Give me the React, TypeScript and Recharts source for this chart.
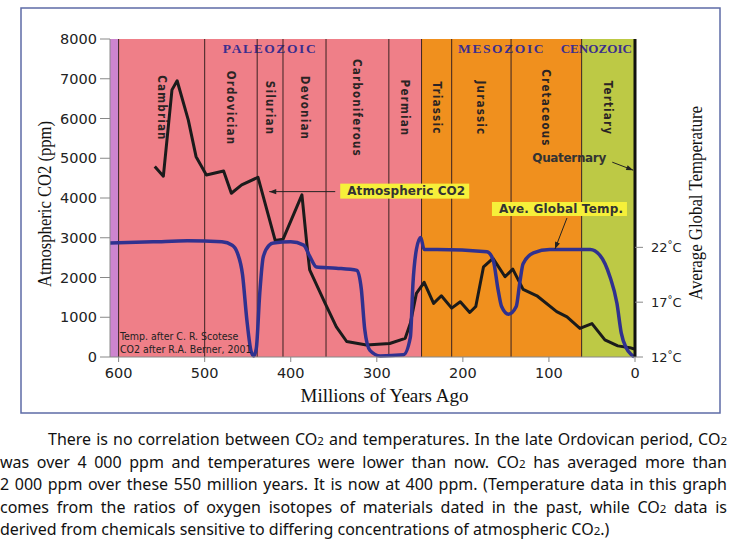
import React from 'react';
import {
  ComposedChart,
  Line,
  XAxis,
  YAxis,
  ReferenceArea,
  ReferenceLine,
  ReferenceDot,
  Label,
} from 'recharts';

// ---- Geologic time scale (millions of years ago) ----
const periodNames = ['Cambrian', 'Ordovician', 'Silurian', 'Devonian', 'Carboniferous', 'Permian', 'Triassic', 'Jurassic', 'Cretaceous', 'Tertiary'];
const periodStarts = [600, 500, 439, 409, 359, 286, 248, 213, 144, 62];
const periodEnds = [500, 439, 409, 359, 286, 248, 213, 144, 62, 0];

const boundaryAges = [600, 500, 439, 409, 359, 286, 248, 213, 144, 62, 0];
const boundaryLabels = ['590', '505', '438', '408', '360', '286', '248', '213', '144', '65', '2'];

const eraNames = ['PALEOZOIC', 'MESOZOIC', 'CENOZOIC'];
const eraStarts = [600, 248, 62];
const eraEnds = [248, 62, 0];
const precambrianSpan = [610, 600];

// ---- Atmospheric CO2 (ppm), after R.A. Berner 2001 ----
const co2Ages = [558, 548, 538, 532, 519, 510, 498, 478, 469, 457, 438, 418, 409, 387, 381, 378, 360, 347, 335, 312, 285, 267, 261, 254, 245, 234, 225, 213, 203, 192, 185, 176, 165, 151, 142, 130, 114, 91, 79, 64, 50, 35, 20, 6, 1];
const co2Values = [4790, 4550, 6720, 6950, 5960, 5040, 4580, 4680, 4120, 4330, 4520, 2930, 2960, 4080, 2780, 2190, 1350, 760, 390, 300, 340, 470, 850, 1600, 1880, 1350, 1540, 1230, 1390, 1120, 1270, 2270, 2480, 2020, 2210, 1700, 1540, 1140, 1010, 720, 840, 430, 280, 235, 200];

// ---- Average global temperature (°C), after C.R. Scotese ----
const tempAges = [610, 560, 520, 480, 468, 462, 456, 451, 446, 443, 440, 436, 432, 425, 420, 400, 385, 378, 370, 347, 323, 318, 314, 308, 296, 269, 261, 258, 254, 249, 245, 230, 172, 165, 159, 155, 147, 138, 134, 130, 118, 99, 52, 41, 29, 21, 16, 10, 4, 1];
const tempValues = [22.4, 22.5, 22.6, 22.5, 22.2, 21.5, 19.5, 15.4, 12.5, 12.1, 12.8, 17.8, 21.1, 22.2, 22.4, 22.5, 22.2, 21.2, 20.2, 20.1, 19.9, 18.2, 14.5, 12.6, 12.1, 12.2, 13.8, 18.7, 21.8, 22.9, 21.8, 21.8, 21.6, 20.9, 18.1, 16.6, 15.9, 16.6, 18.7, 20.5, 21.5, 21.8, 21.8, 21.3, 19.3, 16.9, 14.2, 12.8, 12.2, 12.0];

// ---- Axis ticks ----
const ageTicks = [600, 500, 400, 300, 200, 100, 0];
const co2Ticks = [0, 1000, 2000, 3000, 4000, 5000, 6000, 7000, 8000];
const tempTicks = [12, 17, 22];

const co2Data = co2Ages.map((age, i) => ({ age, co2: co2Values[i] }));
const tempData = tempAges.map((age, i) => ({ age, temp: tempValues[i] }));

// ---- Styling ----
const PAPER = '#ffffff';
const ERA_FILLS = ['#ef7f88', '#f0901e', '#bdc945'];
const PRECAMBRIAN_FILL = '#cd85cf';
const CO2_COLOR = '#1b1b1b';
const TEMP_COLOR = '#30318f';
const ERA_TEXT = '#3b2e8e';
const NOTE_YELLOW = '#f6f03a';
const SANS = '"DejaVu Sans", Verdana, sans-serif';
const SANS_COND = '"DejaVu Sans Condensed", "DejaVu Sans", sans-serif';
const SERIF = '"Liberation Serif", "Times New Roman", serif';

// small horizontal nudges so the crowded boundary labels do not collide
const topLabelNudge = [5, -4, -2, -2, 3, -2, -8, -12, 4, 8, -5];

const TopTick = (props: any) => {
  const { x, payload } = props;
  const i = boundaryAges.indexOf(payload.value);
  return (
    <text
      x={x + (topLabelNudge[i] || 0)}
      y={34}
      textAnchor="middle"
      fontFamily={SANS}
      fontSize={13}
      fill="#222"
    >
      {boundaryLabels[i]}
    </text>
  );
};

const TempTick = (props: any) => {
  const { x, y, payload } = props;
  return (
    <text x={x} y={y} dy="0.36em" textAnchor="start" fontFamily={SANS} fontSize={13} fill="#222">
      {payload.value}
      <tspan fontSize={10} dy={-4}>°</tspan>
      <tspan dy={4}>C</tspan>
    </text>
  );
};

const PeriodLabel = (props: any) => {
  const { viewBox, value } = props;
  const cx = viewBox.x + viewBox.width / 2;
  const cy = 108;
  return (
    <text
      transform={`translate(${cx},${cy}) rotate(90)`}
      textAnchor="middle"
      dominantBaseline="central"
      fontFamily={SANS_COND}
      fontWeight="bold"
      fontSize={11.5}
      letterSpacing={1.2}
      fill="#2b2424"
    >
      {value}
    </text>
  );
};

const EraLabel = (props: any) => {
  const { viewBox, value } = props;
  const natural = value.length * 10.5;
  const fits = natural <= viewBox.width;
  const baseline = viewBox.y + 14;
  if (fits) {
    return (
      <text
        x={viewBox.x + viewBox.width / 2}
        y={baseline}
        textAnchor="middle"
        fontFamily={SERIF}
        fontWeight="bold"
        fontSize={13.5}
        letterSpacing={1.6}
        fill={ERA_TEXT}
      >
        {value}
      </text>
    );
  }
  return (
    <text
      x={viewBox.x + viewBox.width - 3}
      y={baseline}
      textAnchor="end"
      fontFamily={SERIF}
      fontWeight="bold"
      fontSize={13.5}
      textLength={viewBox.width + 18}
      lengthAdjust="spacingAndGlyphs"
      fill={ERA_TEXT}
    >
      {value}
    </text>
  );
};

const arrowHead = (x1: number, y1: number, x2: number, y2: number) => {
  const a = Math.atan2(y2 - y1, x2 - x1);
  const L = 7;
  const w = 2.6;
  const bx = x2 - L * Math.cos(a);
  const by = y2 - L * Math.sin(a);
  return `${x2},${y2} ${bx + w * Math.sin(a)},${by - w * Math.cos(a)} ${bx - w * Math.sin(a)},${by + w * Math.cos(a)}`;
};

const Pointer = ({ x1, y1, x2, y2 }: { x1: number; y1: number; x2: number; y2: number }) => (
  <g>
    <line x1={x1} y1={y1} x2={x2} y2={y2} stroke="#222" strokeWidth={1} />
    <polygon points={arrowHead(x1, y1, x2, y2)} fill="#222" />
  </g>
);

const Callout = ({ text, bx, by, bw, bh, tx, tw }: any) => (
  <g>
    <rect x={bx} y={by} width={bw} height={bh} fill={NOTE_YELLOW} />
    <text
      x={tx}
      y={by + bh / 2}
      dominantBaseline="central"
      fontFamily={SANS}
      fontWeight="bold"
      fontSize={12}
      textLength={tw}
      lengthAdjust="spacing"
      fill="#333"
    >
      {text}
    </text>
  </g>
);

const co2Callout = (p: any) => {
  const { cx, cy } = p;
  return (
    <g>
      <Pointer x1={cx + 66} y1={cy} x2={cx} y2={cy} />
      <Callout text="Atmospheric CO2" bx={cx + 71} by={cy - 8} bw={129} bh={15} tx={cx + 78} tw={118} />
    </g>
  );
};

const tempCallout = (p: any) => {
  const { cx, cy } = p;
  return (
    <g>
      <Pointer x1={cx + 12} y1={cy - 31} x2={cx} y2={cy} />
      <Callout text="Ave. Global Temp." bx={cx - 63} by={cy - 47} bw={135} bh={14} tx={cx - 56} tw={124} />
    </g>
  );
};

const quaternaryCallout = (p: any) => {
  const { cx, cy } = p;
  return (
    <g>
      <Pointer x1={cx - 21} y1={cy - 8} x2={cx} y2={cy} />
      <text
        x={cx - 101}
        y={cy - 12}
        dominantBaseline="central"
        fontFamily={SANS}
        fontWeight="bold"
        fontSize={12}
        textLength={74}
        lengthAdjust="spacing"
        fill="#333"
      >
        Quaternary
      </text>
    </g>
  );
};

const LeftTitle = (props: any) => {
  const { viewBox } = props;
  const x = viewBox.x + 14;
  const y = viewBox.y + viewBox.height / 2 + 6;
  return (
    <text
      transform={`translate(${x},${y}) rotate(-90)`}
      textAnchor="middle"
      dominantBaseline="central"
      fontFamily={SERIF}
      fontSize={19}
      textLength={166}
      lengthAdjust="spacingAndGlyphs"
      fill="#111"
    >
      Atmospheric CO2 (ppm)
    </text>
  );
};

const RightTitle = (props: any) => {
  const { viewBox } = props;
  const x = viewBox.x + 60;
  const y = viewBox.y + viewBox.height / 2 + 5;
  return (
    <text
      transform={`translate(${x},${y}) rotate(-90)`}
      textAnchor="middle"
      dominantBaseline="central"
      fontFamily={SERIF}
      fontSize={19}
      textLength={194}
      lengthAdjust="spacingAndGlyphs"
      fill="#111"
    >
      Average Global Temperature
    </text>
  );
};

const BottomTitle = (props: any) => {
  const { viewBox } = props;
  return (
    <text
      x={viewBox.x + viewBox.width / 2 + 12}
      y={viewBox.y + 38}
      textAnchor="middle"
      dominantBaseline="central"
      fontFamily={SERIF}
      fontSize={19}
      fill="#111"
    >
      Millions of Years Ago
    </text>
  );
};

const Sub2 = () => <span style={{ fontSize: '0.72em' }}>2</span>;

const lineStyle: React.CSSProperties = {
  textAlign: 'justify',
  textAlignLast: 'justify',
  height: 22.5,
  overflow: 'visible',
};

export default function App() {
  return (
    <div style={{ position: 'absolute', left: 0, top: 0, width: 730, height: 544, background: PAPER, overflow: 'hidden' }}>
      <ComposedChart
        width={730}
        height={420}
        margin={{ top: 14, right: 15, bottom: 33, left: 30 }}
      >
        <XAxis
          xAxisId="bottom"
          type="number"
          dataKey="age"
          domain={[0, 610]}
          reversed
          ticks={ageTicks}
          height={30}
          tickSize={5}
          tickMargin={6}
          stroke="#888"
          tick={{ fill: '#222', fontSize: 14.5, fontFamily: SANS }}
        >
          <Label content={BottomTitle} />
        </XAxis>
        <XAxis
          xAxisId="top"
          orientation="top"
          type="number"
          domain={[0, 610]}
          reversed
          ticks={boundaryAges}
          height={25}
          axisLine={false}
          tickLine={false}
          tick={TopTick}
        />
        <YAxis
          yAxisId="co2"
          domain={[0, 8000]}
          ticks={co2Ticks}
          width={80}
          tickSize={10}
          tickMargin={3}
          stroke="#888"
          tick={{ fill: '#222', fontSize: 14.5, fontFamily: SANS }}
        >
          <Label content={LeftTitle} />
        </YAxis>
        <YAxis
          yAxisId="temp"
          orientation="right"
          domain={[12, 41]}
          ticks={tempTicks}
          width={80}
          tickSize={8}
          tickMargin={8}
          axisLine={false}
          stroke="#888"
          tick={TempTick}
        >
          <Label content={RightTitle} />
        </YAxis>

        {eraNames.map((name, i) => (
          <ReferenceArea
            key={name}
            xAxisId="bottom"
            yAxisId="co2"
            x1={eraStarts[i]}
            x2={eraEnds[i]}
            fill={ERA_FILLS[i]}
            fillOpacity={1}
            stroke="none"
            label={{ value: name, content: EraLabel }}
          />
        ))}
        <ReferenceArea
          xAxisId="bottom"
          yAxisId="co2"
          x1={precambrianSpan[0]}
          x2={precambrianSpan[1]}
          fill={PRECAMBRIAN_FILL}
          fillOpacity={1}
          stroke="none"
        />
        {periodNames.map((name, i) => (
          <ReferenceArea
            key={name}
            xAxisId="bottom"
            yAxisId="co2"
            x1={periodStarts[i]}
            x2={periodEnds[i]}
            fill="none"
            fillOpacity={0}
            stroke="none"
            label={{ value: name, content: PeriodLabel }}
          />
        ))}
        {boundaryAges.slice(0, -1).map((age) => (
          <ReferenceLine key={age} xAxisId="bottom" yAxisId="co2" x={age} stroke="#3a2222" strokeWidth={1} />
        ))}

        <Line
          data={co2Data}
          xAxisId="bottom"
          yAxisId="co2"
          dataKey="co2"
          type="linear"
          stroke={CO2_COLOR}
          strokeWidth={3}
          strokeLinejoin="round"
          dot={false}
          isAnimationActive={false}
        />
        <Line
          data={tempData}
          xAxisId="bottom"
          yAxisId="temp"
          dataKey="temp"
          type="monotone"
          stroke={TEMP_COLOR}
          strokeWidth={3.5}
          dot={false}
          isAnimationActive={false}
        />

        <ReferenceLine xAxisId="bottom" yAxisId="co2" x={0} stroke="#111" strokeWidth={3} />

        <ReferenceDot xAxisId="bottom" yAxisId="co2" x={425} y={4160} r={0} shape={co2Callout} />
        <ReferenceDot xAxisId="bottom" yAxisId="temp" x={93} y={21.85} r={0} shape={tempCallout} />
        <ReferenceDot xAxisId="bottom" yAxisId="co2" x={2} y={4700} r={0} shape={quaternaryCallout} />
      </ComposedChart>

      {/* frame and data credits */}
      <svg width={730} height={420} style={{ position: 'absolute', left: 0, top: 0, pointerEvents: 'none' }}>
        <rect x={21} y={8} width={699} height={405} fill="none" stroke="#5d6ba6" strokeWidth={1.5} />
        <text x={120} y={336} dominantBaseline="central" fontFamily={SANS_COND} fontSize={10.5} fill="#222">
          Temp. after C. R. Scotese
        </text>
        <text x={120} y={348.5} dominantBaseline="central" fontFamily={SANS_COND} fontSize={10.5} fill="#222">
          CO2 after R.A. Berner, 2001
        </text>
      </svg>

      <div
        style={{
          position: 'absolute',
          left: 0,
          top: 428,
          width: 727,
          fontFamily: '"Noto Sans", sans-serif',
          fontSize: 16,
          lineHeight: '22.5px',
          color: '#111',
        }}
      >
        <div style={{ ...lineStyle, paddingLeft: 48 }}>
          There is no correlation between CO<Sub2 /> and temperatures. In the late Ordovican period, CO<Sub2 />
        </div>
        <div style={lineStyle}>
          was over 4 000 ppm and temperatures were lower than now. CO<Sub2 /> has averaged more than
        </div>
        <div style={lineStyle}>
          2 000 ppm over these 550 million years. It is now at 400 ppm. (Temperature data in this graph
        </div>
        <div style={lineStyle}>
          comes from the ratios of oxygen isotopes of materials dated in the past, while CO<Sub2 /> data is
        </div>
        <div style={{ ...lineStyle, textAlignLast: 'left' }}>
          derived from chemicals sensitive to differing concentrations of atmospheric CO<Sub2 />.)
        </div>
      </div>
    </div>
  );
}
